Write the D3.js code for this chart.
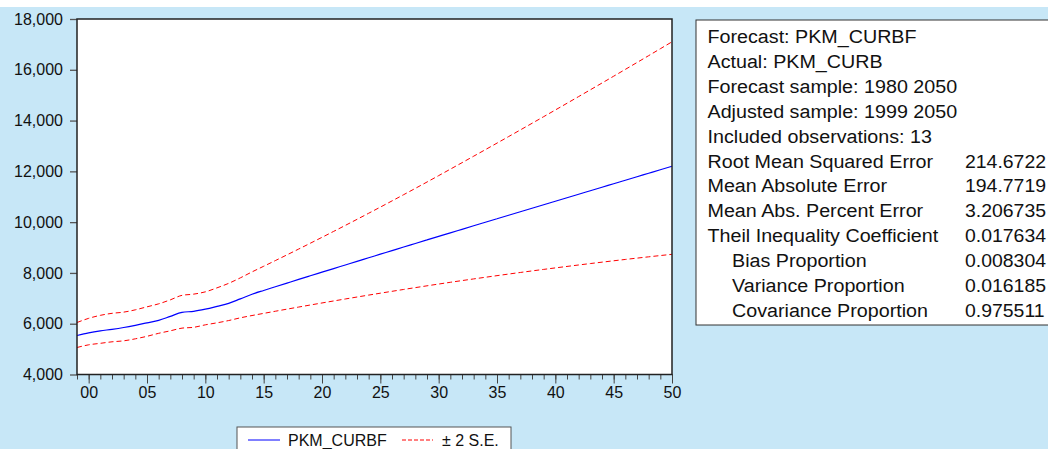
<!DOCTYPE html>
<html>
<head>
<meta charset="utf-8">
<script src="https://cdn.jsdelivr.net/npm/d3@7"></script>
<style>
	body { margin: 0; background: #fff; }
	svg { display: block; font-family: "Liberation Sans", Arial, sans-serif; }
</style>
</head>
<body>
<div id="chart-area"></div>
<script>
// years 1999..2050
var years = d3.range(1999, 2051);
var forecast = [5535, 5641, 5720, 5779, 5850, 5937, 6035, 6133, 6290, 6448,
	6488, 6574, 6684, 6802, 6980, 7160, 7310, 7455, 7600, 7745,
	7888, 8030, 8172, 8314, 8456, 8597, 8738, 8879, 9020, 9160,
	9300, 9440, 9580, 9718, 9856, 9994, 10132, 10270, 10408, 10546,
	10684, 10822, 10960, 11098, 11236, 11374, 11512, 11650, 11788, 11926,
	12064, 12200];
var upper = [6047, 6212, 6330, 6409, 6456, 6547, 6665, 6783, 6940, 7117,
	7165, 7255, 7413, 7590, 7806, 8040, 8262, 8486, 8712, 8940,
	9170, 9402, 9636, 9872, 10110, 10350, 10592, 10836, 11082, 11330,
	11580, 11832, 12086, 12341, 12597, 12854, 13112, 13371, 13631, 13892,
	14154, 14417, 14681, 14946, 15212, 15479, 15747, 16016, 16286, 16557,
	16829, 17102];
var lower = [5063, 5169, 5228, 5287, 5326, 5405, 5504, 5622, 5720, 5826,
	5858, 5956, 6035, 6125, 6232, 6322, 6407, 6491, 6574, 6656,
	6737, 6817, 6896, 6974, 7051, 7127, 7202, 7276, 7349, 7421,
	7492, 7562, 7631, 7698, 7764, 7829, 7893, 7956, 8018, 8079,
	8139, 8198, 8256, 8313, 8369, 8424, 8478, 8531, 8583, 8634,
	8684, 8733];
var yTicks = [4000, 6000, 8000, 10000, 12000, 14000, 16000, 18000];
var xTicks = [2000, 2005, 2010, 2015, 2020, 2025, 2030, 2035, 2040, 2045, 2050];
var statLabels = ["Forecast: PKM_CURBF", "Actual: PKM_CURB", "Forecast sample: 1980 2050",
	"Adjusted sample: 1999 2050", "Included observations: 13", "Root Mean Squared Error",
	"Mean Absolute Error", "Mean Abs. Percent Error", "Theil Inequality Coefficient",
	"Bias Proportion", "Variance Proportion", "Covariance Proportion"];
var statIndented = [false, false, false, false, false, false, false, false, false, true, true, true];
var statValues = ["", "", "", "", "", "214.6722", "194.7719", "3.206735", "0.017634",
	"0.008304", "0.016185", "0.975511"];
var legendItems = ["PKM_CURBF", "± 2 S.E."];

var W = 1048, H = 449;
var plot = { left: 77, top: 19, right: 672, bottom: 374.5 };

var svg = d3.select("#chart-area").append("svg")
	.attr("width", W)
	.attr("height", H);

// background
svg.append("rect").attr("width", W).attr("height", H).attr("fill", "#fff");
svg.append("rect").attr("y", 7).attr("width", W).attr("height", H - 7).attr("fill", "#C7E7F7");

var x = d3.scaleLinear().domain([1999, 2050]).range([plot.left, plot.right]);
var y = d3.scaleLinear().domain([4000, 18000]).range([plot.bottom, plot.top]);

svg.append("rect")
	.attr("x", plot.left).attr("y", plot.top)
	.attr("width", plot.right - plot.left).attr("height", plot.bottom - plot.top)
	.attr("fill", "#fff");

// Y axis
var yAxis = svg.append("g")
	.attr("transform", "translate(" + plot.left + ",0)")
	.call(d3.axisLeft(y).tickValues(yTicks).tickSize(7).tickPadding(7).tickFormat(d3.format(",")));
yAxis.select(".domain").remove();
yAxis.selectAll(".tick line").attr("stroke", "#555").attr("stroke-width", 1.3);
yAxis.selectAll("text").attr("font-size", "16px").attr("fill", "#111")
	.attr("font-family", "Liberation Sans, Arial, sans-serif");

// X axis: minor ticks every year, major every 5
var xMinor = svg.append("g")
	.attr("transform", "translate(0," + plot.bottom + ")")
	.call(d3.axisBottom(x).tickValues(years).tickSize(5).tickFormat(""));
xMinor.select(".domain").remove();
xMinor.selectAll(".tick line").attr("stroke", "#444");

var xAxis = svg.append("g")
	.attr("transform", "translate(0," + plot.bottom + ")")
	.call(d3.axisBottom(x).tickValues(xTicks).tickSize(9).tickPadding(3)
		.tickFormat(d => d3.format("02d")(d % 100)));
xAxis.select(".domain").remove();
xAxis.selectAll(".tick line").attr("stroke", "#444");
xAxis.selectAll("text").attr("font-size", "16px").attr("fill", "#111")
	.attr("font-family", "Liberation Sans, Arial, sans-serif");

// lines
var line = d3.line()
	.x((d, i) => x(years[i]))
	.y(d => y(d))
	.curve(d3.curveMonotoneX);

svg.append("path").datum(upper)
	.attr("d", line).attr("fill", "none")
	.attr("stroke", "#FF0000").attr("stroke-width", 1).attr("stroke-dasharray", "5,3");
svg.append("path").datum(lower)
	.attr("d", line).attr("fill", "none")
	.attr("stroke", "#FF0000").attr("stroke-width", 1).attr("stroke-dasharray", "5,3");
svg.append("path").datum(forecast)
	.attr("d", line).attr("fill", "none")
	.attr("stroke", "#0000FF").attr("stroke-width", 1.2);

// frame
svg.append("path")
	.attr("d", "M" + plot.left + "," + plot.bottom + "V" + plot.top + "H" + plot.right + "V" + plot.bottom + "Z")
	.attr("fill", "none").attr("stroke", "#222").attr("stroke-width", 1.5);

// legend
var legend = svg.append("g").attr("transform", "translate(237,427)");
legend.append("rect")
	.attr("width", 274).attr("height", 30)
	.attr("fill", "#fff").attr("stroke", "#555");
legend.append("line")
	.attr("x1", 11).attr("x2", 43).attr("y1", 13).attr("y2", 13)
	.attr("stroke", "#0000FF");
legend.append("text").attr("x", 51).attr("y", 19)
	.attr("font-size", "16px").attr("fill", "#111").text(legendItems[0]);
legend.append("line")
	.attr("x1", 165).attr("x2", 196).attr("y1", 13).attr("y2", 13)
	.attr("stroke", "#FF0000").attr("stroke-dasharray", "4,2");
legend.append("text").attr("x", 205).attr("y", 19)
	.attr("font-size", "16px").attr("fill", "#111").text(legendItems[1]);

// stats box
var stats = svg.append("g").attr("transform", "translate(696,20)");
stats.append("rect")
	.attr("width", 400).attr("height", 305)
	.attr("fill", "#fff").attr("stroke", "#333");
statLabels.forEach((label, i) => {
	var ty = 23.3 + i * 24.85;
	stats.append("text")
		.attr("transform", "translate(" + (statIndented[i] ? 36 : 11.5) + "," + ty + ") scale(1.095,1)")
		.attr("font-size", "18px").attr("fill", "#111")
		.text(label);
	if (statValues[i]) {
		stats.append("text")
			.attr("transform", "translate(269," + ty + ") scale(1.08,1)")
			.attr("font-size", "18px").attr("fill", "#111")
			.text(statValues[i]);
	}
});
</script>
</body>
</html>
